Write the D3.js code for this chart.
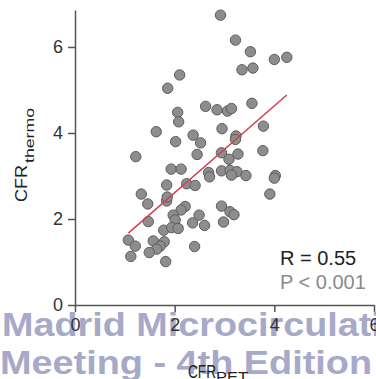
<!DOCTYPE html>
<html>
<head>
<meta charset="utf-8">
<script src="https://cdn.jsdelivr.net/npm/d3@7"></script>
<style>
  html, body { margin: 0; padding: 0; background: #fff; }
  svg { display: block; font-family: "Liberation Sans", Arial, sans-serif; }
</style>
</head>
<body>
<svg id="chart" width="376" height="379"></svg>
<script>
// CFR by PET (x) vs CFR by thermodilution (y), one point per patient
const cfrPet = [
  2.92, 3.22, 3.52, 4.00, 4.25, 3.35, 3.57, 2.10, 1.86, 2.62,
  2.85, 3.06, 3.14, 3.55, 2.06, 2.08, 1.63, 2.02, 2.37, 2.52,
  2.95, 3.78, 3.23, 3.22, 1.22, 2.45, 2.94, 3.27, 3.09, 3.77,
  1.93, 2.13, 2.68, 2.70, 2.94, 3.11, 3.25, 3.14, 3.43, 4.02,
  4.00, 1.84, 2.24, 2.41, 1.33, 1.46, 1.84, 1.85, 3.91, 2.21,
  2.13, 1.97, 2.01, 2.49, 2.36, 2.60, 1.47, 1.78, 1.94, 2.07,
  2.94, 3.11, 3.19, 2.98, 1.07, 1.21, 1.57, 1.79, 1.71, 1.64,
  1.49, 1.12, 2.40, 1.82
];
const cfrThermo = [
  6.74, 6.16, 5.89, 5.71, 5.76, 5.47, 5.51, 5.35, 5.04, 4.62,
  4.54, 4.51, 4.57, 4.69, 4.48, 4.26, 4.03, 3.80, 3.95, 3.77,
  4.10, 4.16, 3.93, 3.85, 3.45, 3.50, 3.54, 3.51, 3.39, 3.59,
  3.16, 3.16, 3.08, 2.98, 3.12, 3.13, 3.10, 3.02, 3.01, 3.01,
  2.95, 2.79, 2.82, 2.78, 2.58, 2.35, 2.42, 2.51, 2.58, 2.29,
  2.21, 2.09, 1.98, 2.09, 1.91, 1.85, 1.94, 1.74, 1.80, 1.78,
  2.30, 2.17, 2.10, 1.93, 1.51, 1.37, 1.49, 1.47, 1.37, 1.30,
  1.22, 1.13, 1.36, 1.01
];

const xTicks = [0, 2, 4, 6];
const yTicks = [0, 2, 4, 6];

// fitted line
const fitSlope = 1.01;
const fitIntercept = 0.59;

const statLines = ['R = 0.55', 'P < 0.001'];
const watermarkLines = ['Madrid Microcirculation', 'Meeting - 4th Edition'];

const svg = d3.select('#chart');
const axisColor = '#555';

const x = d3.scaleLinear().domain([0, 6]).range([75, 374]);
const y = d3.scaleLinear().domain([0, 6.86]).range([305, 10]);

// watermark sits behind everything
const wm = svg.append('g')
  .attr('fill', '#a6a9c8')
  .attr('font-weight', 'bold')
  .attr('font-size', 33);
wm.append('text').attr('x', 2).attr('y', 336)
  .attr('textLength', 426).attr('lengthAdjust', 'spacingAndGlyphs')
  .text(watermarkLines[0]);
wm.append('text').attr('x', 0).attr('y', 374)
  .attr('textLength', 372).attr('lengthAdjust', 'spacingAndGlyphs')
  .text(watermarkLines[1]);

// axes
const xAxis = svg.append('g')
  .attr('transform', `translate(0,${y(0)})`)
  .call(d3.axisBottom(x).tickValues(xTicks).tickFormat(d3.format('d'))
    .tickSize(7).tickPadding(6).tickSizeOuter(0));
const yAxis = svg.append('g')
  .attr('transform', `translate(${x(0)},0)`)
  .call(d3.axisLeft(y).tickValues(yTicks).tickFormat(d3.format('d'))
    .tickSize(7).tickPadding(5).tickSizeOuter(0));

[xAxis, yAxis].forEach(a => {
  a.select('.domain').attr('stroke', axisColor).attr('stroke-width', 1.5);
  a.selectAll('.tick line').attr('stroke', axisColor).attr('stroke-width', 1.5);
  a.selectAll('.tick text')
    .attr('fill', '#333')
    .attr('font-size', 18)
    .attr('font-family', '"Liberation Sans", Arial, sans-serif');
});

// points
svg.append('g')
  .selectAll('circle')
  .data(cfrPet.map((v, i) => [v, cfrThermo[i]]))
  .enter().append('circle')
  .attr('cx', d => x(d[0]))
  .attr('cy', d => y(d[1]))
  .attr('r', 5.2)
  .attr('fill', '#8d8d8d')
  .attr('stroke', '#5c5c5c')
  .attr('stroke-width', 1);

// regression line over the data range
const [xMin, xMax] = d3.extent(cfrPet);
svg.append('line')
  .attr('x1', x(xMin)).attr('y1', y(fitSlope * xMin + fitIntercept))
  .attr('x2', x(xMax)).attr('y2', y(fitSlope * xMax + fitIntercept))
  .attr('stroke', '#d2404f')
  .attr('stroke-width', 1.5);

// stats
svg.append('text').attr('x', 280).attr('y', 265)
  .attr('font-size', 20).attr('fill', '#222').text(statLines[0]);
svg.append('text').attr('x', 280).attr('y', 289)
  .attr('font-size', 20).attr('fill', '#8a8a8a').text(statLines[1]);

// y label: CFR_thermo
const yl = svg.append('g').attr('transform', 'translate(27,202) rotate(-90)').attr('fill', '#222');
yl.append('text').attr('x', 0).attr('y', 0).attr('font-size', 17)
  .attr('textLength', 37).attr('lengthAdjust', 'spacingAndGlyphs').text('CFR');
yl.append('text').attr('x', 39).attr('y', 7).attr('font-size', 12)
  .attr('textLength', 55).attr('lengthAdjust', 'spacingAndGlyphs').text('thermo');

// x label: CFR_PET
const xl = svg.append('g').attr('fill', '#222');
xl.append('text').attr('x', 188).attr('y', 378).attr('font-size', 19)
  .attr('textLength', 28).attr('lengthAdjust', 'spacingAndGlyphs').text('CFR');
xl.append('text').attr('x', 216).attr('y', 382).attr('font-size', 14)
  .attr('textLength', 32).attr('lengthAdjust', 'spacingAndGlyphs').text('PET');
</script>
</body>
</html>
